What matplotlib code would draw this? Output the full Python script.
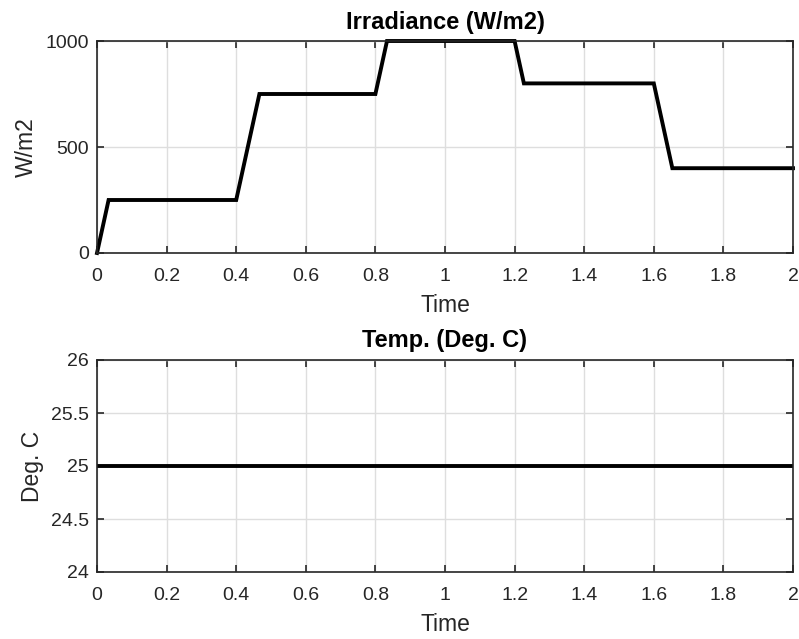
import matplotlib
matplotlib.use("Agg")
import matplotlib.pyplot as plt
import numpy as np

# irradiance profile (breakpoints)
time_g = [0, 0.0333, 0.4, 0.4667, 0.8, 0.8333, 1.2, 1.2267, 1.6, 1.6533, 2]
irradiance = [0, 250, 250, 750, 750, 1000, 1000, 800, 800, 400, 400]

time_t = [0, 2]
temperature = [25, 25]

x_ticks = [0, 0.2, 0.4, 0.6, 0.8, 1, 1.2, 1.4, 1.6, 1.8, 2]
x_labels = ['0', '0.2', '0.4', '0.6', '0.8', '1', '1.2', '1.4', '1.6', '1.8', '2']

plt.rcParams['font.family'] = ['Liberation Sans', 'DejaVu Sans']
dark = '#262626'

fig = plt.figure(figsize=(7.99, 6.39), dpi=100)
W, H = 799, 639
ax1 = fig.add_axes([97 / W, 1 - 253 / H, (793 - 97) / W, (253 - 41) / H])
ax2 = fig.add_axes([97 / W, 1 - 572 / H, (793 - 97) / W, (572 - 360) / H])


def style(ax):
    ax.set_xlim(0, 2)
    ax.set_xticks(x_ticks)
    ax.set_xticklabels(x_labels)
    ax.grid(True, color='#dedede', linewidth=1)
    ax.set_axisbelow(True)
    ax.tick_params(direction='in', top=True, right=True, length=5, width=1.2,
                   colors=dark, labelsize=14)
    ax.tick_params(axis='x', pad=11)
    ax.tick_params(axis='y', pad=6)
    for s in ax.spines.values():
        s.set_color(dark)
        s.set_linewidth(1.2)
    ax.set_xlabel('Time', fontsize=16.5, color=dark, labelpad=6)


ax1.plot(time_g, irradiance, color='black', linewidth=2.8, solid_joinstyle='miter', clip_on=False)
style(ax1)
ax1.set_ylim(0, 1000)
ax1.set_yticks([0, 500, 1000])
ax1.set_ylabel('W/m2', fontsize=16.5, color=dark, labelpad=5)
ax1.set_title('Irradiance (W/m2)', fontsize=17, fontweight='bold', color='black', pad=9)

ax2.plot(time_t, temperature, color='black', linewidth=2.8)
style(ax2)
ax2.set_ylim(24, 26)
ax2.set_yticks([24, 24.5, 25, 25.5, 26])
ax2.set_yticklabels(['24', '24.5', '25', '25.5', '26'])
ax2.set_ylabel('Deg. C', fontsize=16.5, color=dark, labelpad=5)
ax2.set_title('Temp. (Deg. C)', fontsize=17, fontweight='bold', color='black', pad=9)

fig.savefig('out.png', dpi=100)
